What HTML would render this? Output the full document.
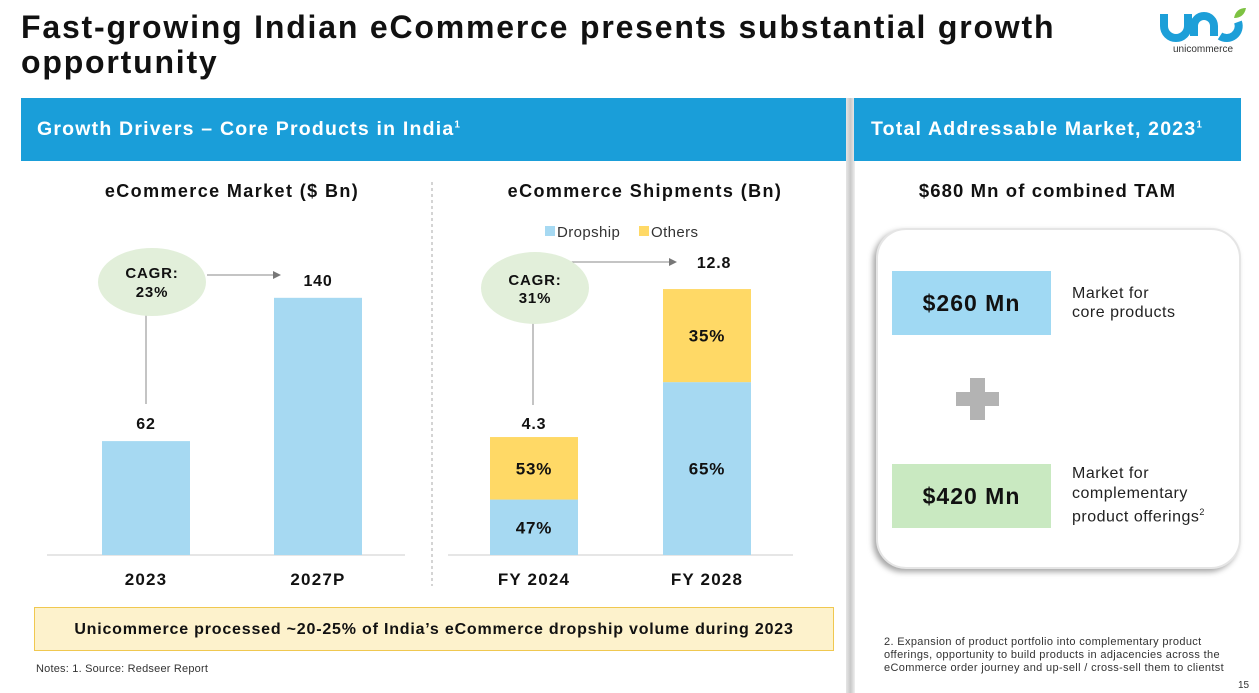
<!DOCTYPE html>
<html><head><meta charset="utf-8">
<style>
*{margin:0;padding:0;box-sizing:border-box}
body{width:1259px;height:693px;background:#fff;position:relative;overflow:hidden;font-family:"Liberation Sans",sans-serif;color:#111}
.abs{position:absolute}
.b{font-weight:bold}
</style></head><body>
<div class="abs b" style="left:21px;top:10px;font-size:32px;line-height:35px;color:#111;letter-spacing:1.8px">Fast-growing Indian eCommerce presents substantial growth<br>opportunity</div>
<svg class="abs" style="left:1158px;top:6px" width="90" height="50" viewBox="0 0 90 50">
<path d="M6 8 v12 a12 12 0 0 0 24 0 v-12" fill="none" stroke="#1d9fd8" stroke-width="8"/>
<path d="M36 30 v-10 a10 10 0 0 1 20 0 v10" fill="none" stroke="#1d9fd8" stroke-width="8"/>
<path d="M62 30 a12 12 0 0 0 18 -14" fill="none" stroke="#1d9fd8" stroke-width="8"/>
<path d="M76 12 q2 -10 12 -10 q-2 10 -12 10z" fill="#7dc242"/>
<text x="45" y="46" font-size="10" text-anchor="middle" fill="#333" font-family="Liberation Sans">unicommerce</text>
</svg>

<div class="abs" style="left:21px;top:98px;width:827px;height:63px;background:#1a9ed9"></div>
<div class="abs b" style="left:37px;top:118px;font-size:19.5px;color:#fff;letter-spacing:1.2px">Growth Drivers – Core Products in India<sup style="font-size:10px">1</sup></div>
<div class="abs" style="left:846px;top:98px;width:9px;height:595px;background:linear-gradient(90deg,#e6e6e6,#c8c8c8,#efefef)"></div>
<div class="abs" style="left:854px;top:98px;width:387px;height:63px;background:#1a9ed9"></div>
<div class="abs b" style="left:871px;top:118px;font-size:19.5px;color:#fff;letter-spacing:1.2px">Total Addressable Market, 2023<sup style="font-size:10px">1</sup></div>

<svg class="abs" id="charts" style="left:0;top:0" width="850" height="600"></svg>

<div class="abs" style="left:34px;top:607px;width:800px;height:44px;background:#fdf2cc;border:1px solid #f0c850;text-align:center;font-weight:bold;font-size:16px;line-height:44px;letter-spacing:0.8px">Unicommerce processed ~20-25% of India’s eCommerce dropship volume during 2023</div>
<div class="abs" style="left:36px;top:663px;font-size:11px;color:#333;letter-spacing:0.2px">Notes: 1. Source: Redseer Report</div>

<div class="abs b" style="left:854px;top:180px;width:387px;text-align:center;font-size:18.5px;letter-spacing:1.1px">$680 Mn of combined TAM</div>
<div class="abs" style="left:876px;top:228px;width:365px;height:341px;border-radius:30px;background:#fff;border:2px solid #e5e5e5;box-shadow:-3px 3px 6px rgba(0,0,0,0.35)"></div>
<div class="abs b" style="left:892px;top:271px;width:159px;height:64px;background:#a0d9f3;text-align:center;line-height:64px;font-size:23px;letter-spacing:1px">$260 Mn</div>
<div class="abs" style="left:1072px;top:284px;font-size:16px;line-height:19px;color:#222;letter-spacing:0.5px">Market for<br>core products</div>
<div class="abs" style="left:956px;top:392px;width:43px;height:14px;background:#b3b3b3"></div>
<div class="abs" style="left:970px;top:378px;width:15px;height:42px;background:#b3b3b3"></div>
<div class="abs b" style="left:892px;top:464px;width:159px;height:64px;background:#c9e9c1;text-align:center;line-height:64px;font-size:23px;letter-spacing:1px">$420 Mn</div>
<div class="abs" style="left:1072px;top:464px;font-size:16px;line-height:19.5px;color:#222;letter-spacing:0.5px">Market for<br>complementary<br>product offerings<sup style="font-size:9px">2</sup></div>
<div class="abs" style="left:884px;top:636px;font-size:11px;line-height:13px;color:#333;letter-spacing:0.35px">2. Expansion of product portfolio into complementary product<br>offerings, opportunity to build products in adjacencies across the<br>eCommerce order journey and up-sell / cross-sell them to clientst</div>
<div class="abs" style="left:1238px;top:680px;font-size:10px;color:#333">15</div>

<script>
const marketCats=["2023","2027P"];
const marketVals=[62,140];
const shipCats=["FY 2024","FY 2028"];
const shipTotals=[4.3,12.8];
const dropshipShare=[47,65];
const othersShare=[53,35];
const marketCagr="23%";
const shipCagr="31%";

const NS="http://www.w3.org/2000/svg";
const svg=document.getElementById('charts');
function mk(tag,attrs,parent){const e=document.createElementNS(NS,tag);for(const k in attrs)e.setAttribute(k,attrs[k]);(parent||svg).appendChild(e);return e;}
function txt(x,y,s,size,bold,anchor,fill,ls){const t=mk('text',{x:x,y:y,'font-size':size,'font-weight':bold?'bold':'normal','text-anchor':anchor||'middle',fill:fill||'#111','font-family':'Liberation Sans, sans-serif','letter-spacing':ls==null?(bold?0.8:0.4):ls});t.textContent=s;return t;}
const base=555;
function yMarket(v){return base-v*1.837;}
function hShip(v){return 43.1+17.41*v;}
const marketX=[102,274], shipX=[490,663], bw=88;

let t=txt(232,197,"eCommerce Market ($ Bn)",18,true,'middle','#111',1.4);

t=txt(645,197,"eCommerce Shipments (Bn)",18,true,'middle','#111',1.4);

let l=mk('line',{x1:432,y1:182,x2:432,y2:586,stroke:'#aaa','stroke-dasharray':'3,3'});

let r=mk('rect',{x:545,y:226,width:10,height:10,fill:'#a6d9f2'});

t=txt(557,237,"Dropship",15,false,'start','#333');

r=mk('rect',{x:639,y:226,width:10,height:10,fill:'#ffd966'});

t=txt(651,237,"Others",15,false,'start','#333');

l=mk('line',{x1:47,y1:base,x2:405,y2:base,stroke:'#ccc'});

l=mk('line',{x1:448,y1:base,x2:793,y2:base,stroke:'#ccc'});


const defs=mk('defs',{});
const m=mk('marker',{id:'ah',markerWidth:8,markerHeight:8,refX:7,refY:4,orient:'auto'},defs);
mk('path',{d:'M0,0 L8,4 L0,8z',fill:'#777'},m);

marketVals.forEach((v,i)=>{
  const x=marketX[i], y=yMarket(v);
  const b=mk('rect',{x:x,y:y,width:bw,height:base-y,fill:'#a6d9f2'});
  
  
  const vl=txt(x+bw/2,y-12,String(v),16,true);
  
  
  const c=txt(x+bw/2,585,marketCats[i],17,true,'middle','#111',1.2);
  
  
});
l=mk('line',{x1:146,y1:314,x2:146,y2:404,stroke:'#888'});

l=mk('line',{x1:207,y1:275,x2:280,y2:275,stroke:'#888','marker-end':'url(#ah)'});

let e=mk('ellipse',{cx:152,cy:282,rx:54,ry:34,fill:'#e2efda'});

t=txt(152,278,"CAGR:",15,true);
t=txt(152,297,marketCagr,15,true);

shipTotals.forEach((v,i)=>{
  const x=shipX[i], h=hShip(v), hd=h*dropshipShare[i]/100, ho=h-hd;
  const d=mk('rect',{x:x,y:base-hd,width:bw,height:hd,fill:'#a6d9f2'});
  
  
  const o=mk('rect',{x:x,y:base-h,width:bw,height:ho,fill:'#ffd966'});
  
  
  const dl=txt(x+bw/2,base-hd/2+6,dropshipShare[i]+"%",17,true);
  
  
  const ol=txt(x+bw/2,base-h+ho/2+6,othersShare[i]+"%",17,true);
  
  
  const vl=txt(x+bw/2+(i?7:0),base-h-(i?21:8),String(v),16,true);
  
  
  const c=txt(x+bw/2,585,shipCats[i],17,true,'middle','#111',1.2);
  
  
});
l=mk('line',{x1:533,y1:322,x2:533,y2:405,stroke:'#888'});

l=mk('line',{x1:570,y1:262,x2:676,y2:262,stroke:'#888','marker-end':'url(#ah)'});

e=mk('ellipse',{cx:535,cy:288,rx:54,ry:36,fill:'#e2efda'});

t=txt(535,285,"CAGR:",15,true);
t=txt(535,303,shipCagr,15,true);
</script>
</body></html>
